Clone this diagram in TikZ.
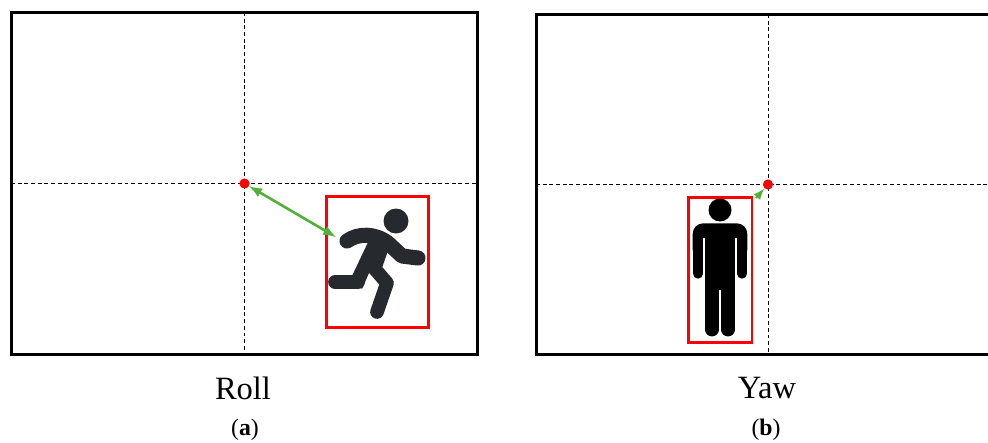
\documentclass[tikz,border=0pt]{standalone}
\usepackage{fontspec}
\setmainfont{Liberation Serif}
\usepackage{tikz}
\definecolor{arrowgreen}{RGB}{84,176,58}
\definecolor{runnergray}{RGB}{38,42,46}
\tikzset{
    frame/.style={draw=black, line width=1.7pt, minimum width=#1, inner sep=0pt, outer sep=0pt},
    axisline/.style={black, dashed, line width=0.45pt, dash pattern=on 2.2pt off 1.6pt},
    reddot/.style={circle, fill=red, minimum size=5.8pt, inner sep=0pt},
    redbox/.style={draw=red, line width=1.7pt, inner sep=0pt, outer sep=0pt},
    greenarrow/.style={arrowgreen, line width=1.5pt, -latex},
    limb/.style={line width=#1, line cap=round, line join=round},
    caption/.style={font=\fontsize{18.5}{18.5}\selectfont, inner sep=0pt},
    sublabel/.style={font=\fontsize{13.5}{13.5}\selectfont, inner sep=0pt}
}
\begin{document}
\begin{tikzpicture}[x=0.02cm, y=-0.02cm]
                \useasboundingbox (0,0) rectangle (988,443);
                \clip (0,0) rectangle (988,443);
                \node[frame=9.34cm, minimum height=6.86cm] (frameA) at (244.5,183.5) {};
                \node[frame=9.28cm, minimum height=6.82cm] (frameB) at (768,184.5) {};
                \draw[axisline] (frameA.north) -- (frameA.south);
                \draw[axisline] (frameA.west) -- (frameA.east);
                \draw[axisline] (frameB.north) -- (frameB.south);
                \draw[axisline] (frameB.west) -- (frameB.east);
                \node[redbox, minimum width=2.06cm, minimum height=2.64cm] (boxA) at (377.5,262) {};
                \node[redbox, minimum width=1.28cm, minimum height=2.92cm] (boxB) at (720,270) {};
                \node[reddot] (originA) at (244.5,183.5) {};
                \node[reddot] (originB) at (768,184.5) {};
                \coordinate (targetA) at (336,237);
                \coordinate (targetB) at (756,198);
                \draw[greenarrow, latex-latex] (originA) -- (targetA);
                \draw[greenarrow, latex-, line width=1.2pt] (originB) -- (targetB);
                % runner
                \fill[runnergray] (396,221) circle (12.5);
                \fill[runnergray] (370,238) -- (390,245) -- (382,268) -- (369,273) -- (362,289) -- (352,276) -- cycle;
                \draw[limb=8.6pt, runnergray] (347,241) .. controls (358,233) and (375,233) .. (388,243) -- (402,256) -- (418,258);
                \draw[limb=7.8pt, runnergray] (358,282) -- (335,282);
                \draw[limb=7.8pt, runnergray] (374,268) -- (387,283) -- (377,312);
                % standing person
                \fill[black] (720,210) circle (11.5);
                \fill[black, rounded corners=6pt] (692.7,260) -- (692.7,223.3) -- (747.3,223.3) -- (747.3,260) -- cycle;
                \draw[limb=5.9pt, black] (698,240) -- (698,273.5);
                \draw[limb=5.9pt, black] (742,240) -- (742,273.5);
                \fill[white] (703.3,238) rectangle (705,280);
                \fill[white] (735,238) rectangle (736.7,280);
                \fill[black] (705,230) rectangle (735,290);
                \draw[limb=7.9pt, black] (712.1,285) -- (712.1,329.5);
                \draw[limb=7.9pt, black] (727.9,285) -- (727.9,329.5);
                \node[caption] (rollLabel) at (243,388) {Roll};
                \node[caption] (yawLabel) at (767,388) {Yaw};
                \node[sublabel] (subA) at (245,430) {(\textbf{a})};
                \node[sublabel] (subB) at (766,430) {(\textbf{b})};
            \end{tikzpicture}
\end{document}
